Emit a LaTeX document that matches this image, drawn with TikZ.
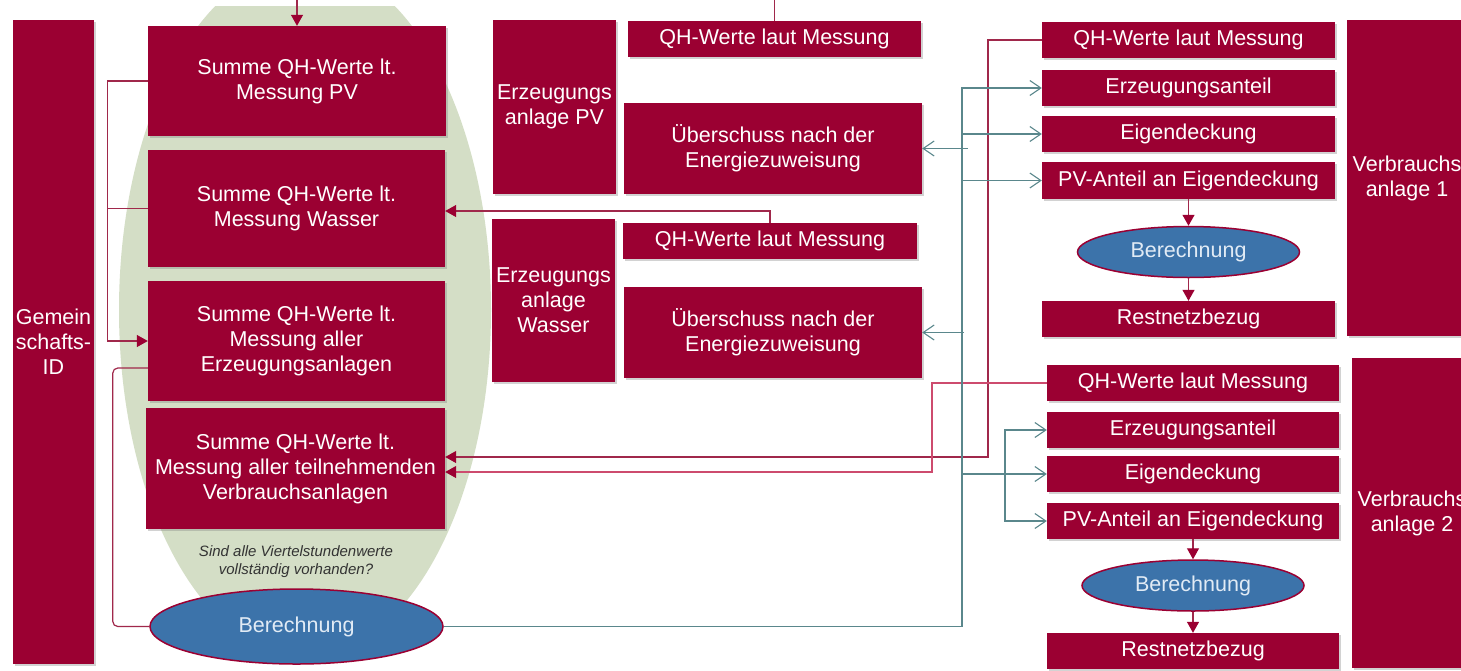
\documentclass[tikz,border=0pt]{standalone}
\usepackage{fontspec}
\setmainfont{Liberation Sans}
\usetikzlibrary{arrows.meta,shapes.geometric,shadows}
\definecolor{boxred}{RGB}{155,0,50}
\definecolor{sage}{RGB}{212,222,198}
\definecolor{calcblue}{RGB}{60,115,170}
\definecolor{calctext}{RGB}{225,235,245}
\definecolor{lnred}{RGB}{160,40,75}
\definecolor{lnpink}{RGB}{205,75,110}
\definecolor{lnteal}{RGB}{90,135,140}
\begin{document}
\begin{tikzpicture}[x=1pt,y=-1pt,
  box/.style={fill=boxred,text=white,inner sep=0pt,align=center,
    font=\fontsize{21.5}{25}\selectfont,
    drop shadow={shadow xshift=1.5pt,shadow yshift=-1.8pt,opacity=0.35}},
  calc/.style={ellipse,fill=calcblue,draw=boxred,line width=1.5pt,text=calctext,
    inner sep=0pt,font=\fontsize{21.5}{25}\selectfont},
  rline/.style={draw=lnred,line width=1.2pt},
  rarrow/.style={rline,-{Triangle[length=11pt,width=12pt,fill=boxred,color=boxred]}},
  tline/.style={draw=lnteal,line width=1.1pt},
  tarrow/.style={tline,-{Straight Barb[length=11pt,width=15pt]}},
]
\useasboundingbox (0,0) rectangle (1461,670);
\clip (0,0) rectangle (1461,670);
\fill[white] (0,0) rectangle (1461,670);

% green background
\begin{scope}
  \clip (0,6) rectangle (1461,670);
  \fill[sage] (305,310) ellipse [x radius=186pt, y radius=347pt];
\end{scope}

% left column
\node[box,minimum width=81pt,minimum height=644pt] (gid) at (53.5,342) {Gemein\\schafts-\\ID};
\node[box,minimum width=298pt,minimum height=110pt] (spv) at (297,81) {Summe QH-Werte lt.\\Messung PV};
\node[box,minimum width=297pt,minimum height=117pt] (sw) at (296.5,208.5) {Summe QH-Werte lt.\\Messung Wasser};
\node[box,minimum width=297pt,minimum height=120pt] (serz) at (296.5,341) {Summe QH-Werte lt.\\Messung aller\\Erzeugungsanlagen};
\node[box,minimum width=299pt,minimum height=121pt] (sv) at (295.5,468.5) {Summe QH-Werte lt.\\Messung aller teilnehmenden\\Verbrauchsanlagen};
\node[font=\fontsize{15}{18}\selectfont\itshape,text=black!80,align=center] (note) at (296,562) {Sind alle Viertelstundenwerte\\vollständig vorhanden?};
\node[calc,minimum width=293pt,minimum height=75pt] (bcalc) at (296.5,626.5) {Berechnung};

% middle column
\node[box,minimum width=123pt,minimum height=174pt] (epv) at (554.5,107) {Erzeugungs\\anlage PV};
\node[box,minimum width=293pt,minimum height=36pt] (qhpv) at (774.5,39) {QH-Werte laut Messung};
\node[box,minimum width=298pt,minimum height=91pt] (ueb1) at (773,148.5) {Überschuss nach der\\Energiezuweisung};
\node[box,minimum width=123pt,minimum height=163pt] (ew) at (553.5,300.5) {Erzeugungs\\anlage\\Wasser};
\node[box,minimum width=294pt,minimum height=36pt] (qhw) at (770,241) {QH-Werte laut Messung};
\node[box,minimum width=298pt,minimum height=91pt] (ueb2) at (773,332.5) {Überschuss nach der\\Energiezuweisung};

% right column 1
\node[box,minimum width=293pt,minimum height=36pt] (qh1) at (1188.5,40) {QH-Werte laut Messung};
\node[box,minimum width=293pt,minimum height=36pt] (erz1) at (1188.5,88) {Erzeugungsanteil};
\node[box,minimum width=293pt,minimum height=36pt] (eig1) at (1188.5,134) {Eigendeckung};
\node[box,minimum width=293pt,minimum height=37pt] (pva1) at (1188.5,180.5) {PV-Anteil an Eigendeckung};
\node[calc,minimum width=222pt,minimum height=51pt] (calc1) at (1188.5,252) {Berechnung};
\node[box,minimum width=293pt,minimum height=36pt] (rest1) at (1188.5,319) {Restnetzbezug};
\node[box,minimum width=120pt,minimum height=316pt] (va1) at (1407,178) {Verbrauchs\\anlage 1};

% right column 2
\node[box,minimum width=292pt,minimum height=36pt] (qh2) at (1193,383) {QH-Werte laut Messung};
\node[box,minimum width=292pt,minimum height=36pt] (erz2) at (1193,430) {Erzeugungsanteil};
\node[box,minimum width=292pt,minimum height=36pt] (eig2) at (1193,474) {Eigendeckung};
\node[box,minimum width=292pt,minimum height=36pt] (pva2) at (1193,521) {PV-Anteil an Eigendeckung};
\node[calc,minimum width=222pt,minimum height=51pt] (calc2) at (1193,585.5) {Berechnung};
\node[box,minimum width=292pt,minimum height=36pt] (rest2) at (1193,651) {Restnetzbezug};
\node[box,minimum width=120pt,minimum height=310pt] (va2) at (1412,513) {Verbrauchs\\anlage 2};

% red connectors, left
\draw[rarrow] (spv.west) -- ++(-40,0) |- (serz.west);
\draw[rline] (sw.west) -- ++(-40,0);
\draw[rline,rounded corners=5pt] ([yshift=-27pt]serz.west) -- ++(-35,0) |- (bcalc.west);
\draw[rarrow] (qhpv.north) -- ++(0,-30) -| (spv.north);
\draw[rarrow] (qhw.north) |- ([yshift=-2.5pt]sw.east);
\draw[rarrow] (qh1.west) -| (988,457) -- ([yshift=11.5pt]sv.east);
\draw[rarrow,draw=lnpink] (qh2.west) -| (932,472) -- ([yshift=-3.5pt]sv.east);

% red connectors, right
\draw[rarrow] (pva1.south) -- (calc1.north);
\draw[rarrow] (calc1.south) -- (rest1.north);
\draw[rarrow] (pva2.south) -- (calc2.north);
\draw[rarrow] (calc2.south) -- (rest2.north);

% teal connectors
\coordinate (tbus) at (962,0);
\coordinate (tsub) at (1005,0);
\draw[tarrow] (bcalc.east) -| (tbus |- erz1.west) -- (erz1.west);
\draw[tarrow] (tbus |- eig1.west) -- (eig1.west);
\draw[tarrow] (tbus |- pva1.west) -- (pva1.west);
\draw[tarrow] ([xshift=6pt]tbus |- ueb1.east) -- (ueb1.east);
\draw[tarrow] ([xshift=2pt]tbus |- ueb2.east) -- (ueb2.east);
\draw[tline,line width=1.8pt] (tbus |- eig2.west) -- (tsub |- eig2.west);
\draw[tarrow] (tbus |- eig2.west) -- (eig2.west);
\draw[tarrow] (tsub |- eig2.west) |- (erz2.west);
\draw[tarrow] (tsub |- eig2.west) |- (pva2.west);
\end{tikzpicture}
\end{document}
